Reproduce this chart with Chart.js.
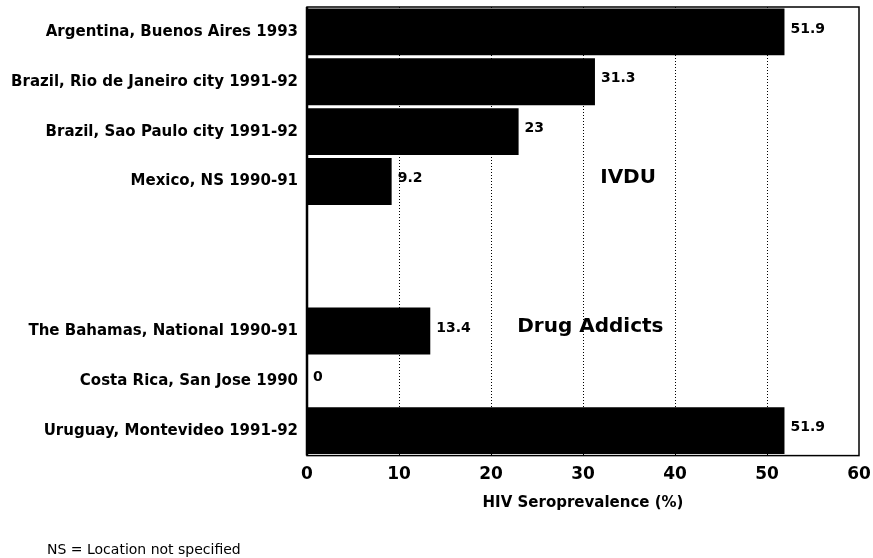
<!DOCTYPE html>
<html>
<head>
<meta charset="utf-8">
<script src="https://cdn.jsdelivr.net/npm/chart.js@4"></script>
<style>
  html, body { margin: 0; padding: 0; background: #fff; }
  canvas { display: block; }
</style>
</head>
<body>
<canvas id="myChart" width="873" height="558"></canvas>
<script>
// categories, blank slots keep the gap between the two groups
const sites = [
  'Argentina, Buenos Aires 1993',
  'Brazil, Rio de Janeiro city 1991-92',
  'Brazil, Sao Paulo city 1991-92',
  'Mexico, NS 1990-91',
  '',
  '',
  'The Bahamas, National 1990-91',
  'Costa Rica, San Jose 1990',
  'Uruguay, Montevideo 1991-92'
];
const prevalence = [51.9, 31.3, 23, 9.2, null, null, 13.4, 0, 51.9];
const xTicks = [0, 10, 20, 30, 40, 50, 60];
const axisTitle = 'HIV Seroprevalence (%)';
const footnote = 'NS = Location not specified';
// group captions: [text, x value, category index]
const groupLabels = [['IVDU', 34.9, 3], ['Drug Addicts', 30.8, 6]];

const fam = '"DejaVu Sans", sans-serif';

const extras = {
  id: 'extras',
  afterDatasetsDraw(chart) {
    const c = chart.ctx;
    const area = chart.chartArea;
    const xs = chart.scales.x, ys = chart.scales.y;

    // box around the plot
    c.save();
    c.strokeStyle = '#000';
    c.lineWidth = 1.5;
    c.strokeRect(area.left, area.top, area.right - area.left, area.bottom - area.top);
    c.lineWidth = 2.5;
    c.beginPath();
    c.moveTo(area.left, area.top);
    c.lineTo(area.left, area.bottom);
    c.stroke();

    // value labels
    c.fillStyle = '#000';
    c.font = 'bold 14px ' + fam;
    c.textAlign = 'left';
    c.textBaseline = 'middle';
    chart.getDatasetMeta(0).data.forEach((bar, i) => {
      const v = prevalence[i];
      if (v === null) return;
      c.fillText(String(v), bar.x + 6, bar.y - 3);
    });

    // group captions
    c.font = 'bold 20px ' + fam;
    c.textAlign = 'center';
    groupLabels.forEach(([t, xv, idx]) => {
      c.fillText(t, xs.getPixelForValue(xv), ys.getPixelForValue(idx) - 4);
    });

    // footnote
    c.font = '14px ' + fam;
    c.textAlign = 'left';
    c.fillText(footnote, 47, 550);
    c.restore();
  }
};

const ctx = document.getElementById('myChart');

new Chart(ctx, {
  type: 'bar',
  data: {
    labels: sites,
    datasets: [{
      data: prevalence,
      backgroundColor: '#000',
      borderWidth: 0,
      barPercentage: 0.94,
      categoryPercentage: 1
    }]
  },
  options: {
    indexAxis: 'y',
    responsive: false,
    animation: false,
    layout: {
      padding: { top: 7, right: 14, bottom: 46, left: 0 }
    },
    plugins: {
      legend: { display: false },
      tooltip: { enabled: false }
    },
    scales: {
      x: {
        min: 0,
        max: 60,
        afterBuildTicks: (scale) => { scale.ticks = xTicks.map(v => ({ value: v })); },
        afterFit: (scale) => { scale.paddingLeft = 0; scale.paddingRight = 0; },
        grid: {
          drawTicks: false,
          lineWidth: 1,
          color: (c) => (c.tick && (c.tick.value === 0 || c.tick.value === 60)) ? 'rgba(0,0,0,0)' : '#000'
        },
        border: { display: false, dash: [1, 2] },
        ticks: {
          padding: 9,
          color: '#000',
          font: { family: fam, size: 17, weight: 'bold' }
        },
        title: {
          display: true,
          text: axisTitle,
          color: '#000',
          padding: { top: 0, bottom: 0 },
          font: { family: fam, size: 15, weight: 'bold' }
        }
      },
      y: {
        afterFit: (scale) => {
          scale.width = 307;
          scale.paddingTop = 0;
          scale.paddingBottom = 0;
        },
        grid: { display: false, drawTicks: false },
        border: { display: false },
        ticks: {
          padding: 9,
          color: '#000',
          autoSkip: false,
          font: { family: fam, size: 15, weight: 'bold' }
        }
      }
    }
  },
  plugins: [extras]
});
</script>
</body>
</html>
